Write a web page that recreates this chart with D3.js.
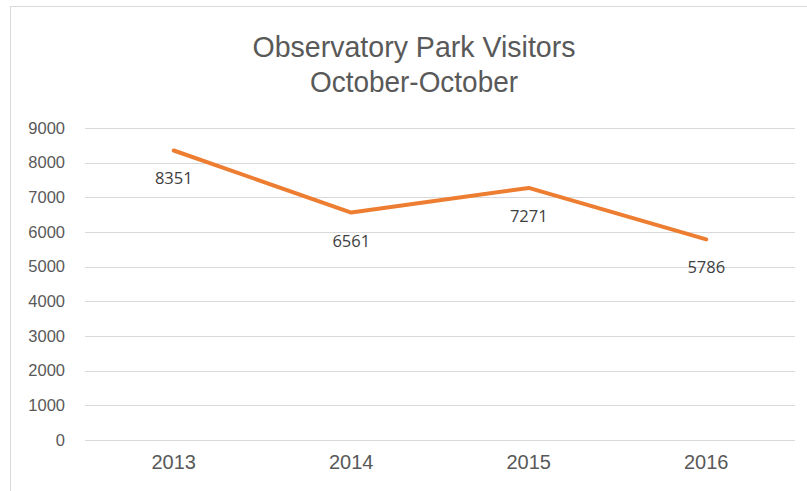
<!DOCTYPE html>
<html><head><meta charset="utf-8">
<script src="https://cdn.jsdelivr.net/npm/d3@7"></script>
<style>body{margin:0;background:#fff}svg{display:block}</style>
</head><body>
<svg id="c" width="807" height="491"></svg>
<script>
const titleLines = ["Observatory Park Visitors", "October-October"];
const categories = ["2013", "2014", "2015", "2016"];
const visitors = [8351, 6561, 7271, 5786];
const yTicks = [0,1000,2000,3000,4000,5000,6000,7000,8000,9000];

const svg = d3.select("#c");
// chart frame
svg.append("line").attr("x1",10.5).attr("x2",10.5).attr("y1",6).attr("y2",491).attr("stroke","#d9d9d9");
svg.append("line").attr("x1",10).attr("x2",807).attr("y1",6.5).attr("y2",6.5).attr("stroke","#d9d9d9");

const x = d3.scaleBand().domain(categories).range([85,795]);
const y = d3.scaleLinear().domain([0,9000]).range([440,128]);

svg.append("g").selectAll("line").data(yTicks).join("line")
  .attr("x1",85).attr("x2",795).attr("y1",d=>Math.round(y(d))+0.5).attr("y2",d=>Math.round(y(d))+0.5)
  .attr("stroke","#d9d9d9").attr("stroke-width",1);

const yAxis = svg.append("g").attr("transform","translate(72,0)")
  .call(d3.axisLeft(y).tickValues(yTicks).tickSize(0).tickPadding(7).tickFormat(d3.format("d")));
yAxis.select(".domain").remove();
yAxis.selectAll("text").attr("font-family","Liberation Sans, Arial, sans-serif").attr("font-size",16.5).attr("fill","#595959");

const xAxis = svg.append("g").attr("transform","translate(0,440)")
  .call(d3.axisBottom(x).tickSize(0).tickPadding(15));
xAxis.select(".domain").remove();
xAxis.selectAll("text").attr("font-family","Liberation Sans, Arial, sans-serif").attr("font-size",20).attr("fill","#595959");

const cx = d => x(d) + x.bandwidth()/2;
const line = d3.line().x((d,i)=>cx(categories[i])).y(d=>y(d));
svg.append("path").datum(visitors).attr("d",line).attr("fill","none")
  .attr("stroke","#ED7D31").attr("stroke-width",4).attr("stroke-linejoin","round").attr("stroke-linecap","round");

svg.append("g").selectAll("text").data(visitors).join("text")
  .attr("x",(d,i)=>cx(categories[i])).attr("y",d=>y(d)+34)
  .attr("text-anchor","middle").attr("font-family","Open Sans, sans-serif").attr("font-size",16.5)
  .attr("fill","#404040").text(d=>d);

const titleWidths = [323, 208];
svg.append("g").selectAll("text").data(titleLines).join("text")
  .attr("x",414).attr("y",(d,i)=>57+i*35).attr("text-anchor","middle")
  .attr("textLength",(d,i)=>titleWidths[i]).attr("lengthAdjust","spacingAndGlyphs")
  .attr("font-family","Liberation Sans Narrow, Arial Narrow, sans-serif").attr("font-size",30).attr("fill","#595959").text(d=>d);
</script>
</body></html>
